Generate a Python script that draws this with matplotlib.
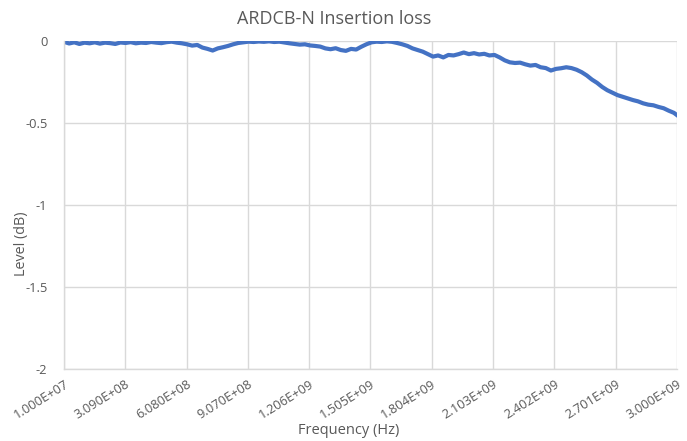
import numpy as np
import matplotlib
matplotlib.use("Agg")
import matplotlib.pyplot as plt
from matplotlib import ticker

freq_mhz = [10, 35, 60, 85, 110, 135, 160, 185, 210, 235, 260, 285, 310, 335, 360,
            385, 410, 435, 460, 485, 510, 535, 560, 585, 610, 635, 660, 685, 710, 735,
            760, 785, 810, 835, 860, 885, 910, 935, 960, 985, 1010, 1035, 1060, 1085,
            1110, 1135, 1160, 1185, 1210, 1235, 1260, 1285, 1310, 1335, 1360, 1385,
            1410, 1435, 1460, 1485, 1510, 1535, 1560, 1585, 1610, 1635, 1660, 1685,
            1710, 1735, 1760, 1785, 1810, 1835, 1860, 1885, 1910, 1935, 1960, 1985,
            2010, 2035, 2060, 2085, 2110, 2135, 2160, 2185, 2210, 2235, 2260, 2285,
            2310, 2335, 2360, 2385, 2410, 2435, 2460, 2485, 2510, 2535, 2560, 2585,
            2610, 2635, 2660, 2685, 2710, 2735, 2760, 2785, 2810, 2835, 2860, 2885,
            2910, 2935, 2960, 2985, 3000]
level_db = [-0.005, -0.015, -0.008, -0.018, -0.010, -0.014, -0.008, -0.016, -0.010,
            -0.013, -0.018, -0.009, -0.012, -0.007, -0.014, -0.010, -0.012, -0.006,
            -0.010, -0.013, -0.007, -0.004, -0.010, -0.014, -0.020, -0.028, -0.024,
            -0.040, -0.048, -0.058, -0.045, -0.038, -0.030, -0.020, -0.012, -0.008,
            -0.004, -0.006, -0.003, -0.005, -0.002, -0.006, -0.004, -0.009, -0.014,
            -0.018, -0.022, -0.020, -0.027, -0.030, -0.034, -0.045, -0.050, -0.044,
            -0.055, -0.060, -0.048, -0.052, -0.035, -0.020, -0.008, -0.004, -0.006,
            -0.002, -0.005, -0.012, -0.020, -0.030, -0.045, -0.055, -0.065, -0.080,
            -0.095, -0.088, -0.100, -0.085, -0.088, -0.080, -0.070, -0.080, -0.074,
            -0.082, -0.078, -0.088, -0.085, -0.100, -0.118, -0.130, -0.134, -0.132,
            -0.142, -0.150, -0.146, -0.160, -0.165, -0.180, -0.170, -0.166, -0.160,
            -0.165, -0.175, -0.190, -0.210, -0.235, -0.255, -0.280, -0.300, -0.315,
            -0.330, -0.340, -0.350, -0.360, -0.368, -0.380, -0.388, -0.392, -0.402,
            -0.410, -0.425, -0.438, -0.452]

x_ticks = [1.0e7, 3.09e8, 6.08e8, 9.07e8, 1.206e9, 1.505e9, 1.804e9, 2.103e9,
           2.402e9, 2.701e9, 3.0e9]
y_ticks = [0, -0.5, -1, -1.5, -2]

plt.rcParams['font.family'] = ['Open Sans', 'DejaVu Sans']
text_color = '#595959'

fig = plt.figure(figsize=(6.87, 4.41), dpi=100)
ax = fig.add_axes([0.0932, 0.1633, 0.8922, 0.7437])

freq_hz = np.array(freq_mhz) * 1e6
ax.plot(freq_hz, level_db, color='#4472C4', linewidth=3, solid_joinstyle='round')

ax.set_xlim(1.0e7, 3.0e9)
ax.set_ylim(-2, 0)
ax.set_xticks(x_ticks)
ax.set_yticks(y_ticks)
ax.xaxis.set_major_formatter(ticker.FuncFormatter(lambda v, p: '{:.3E}'.format(v)))
ax.yaxis.set_major_formatter(ticker.FuncFormatter(lambda v, p: '{:g}'.format(v)))

ax.grid(True, color='#D9D9D9', linewidth=1)
ax.set_axisbelow(True)
for side in ['top', 'right']:
    ax.spines[side].set_visible(False)
for side in ['left', 'bottom']:
    ax.spines[side].set_color('#D9D9D9')
    ax.spines[side].set_linewidth(1)
ax.tick_params(length=0, colors=text_color, labelsize=9.3)
ax.tick_params(axis='x', pad=6)
ax.tick_params(axis='y', pad=12)
plt.setp(ax.get_xticklabels(), rotation=32, ha='right', va='top',
         rotation_mode='anchor')

# titles placed on the figure like Excel does (centred on the chart area)
fig.text(0.486, 0.957, 'ARDCB-N Insertion loss', color=text_color, fontsize=13,
         ha='center', va='center')
fig.text(0.508, 0.023, 'Frequency (Hz)', color=text_color, fontsize=10.5,
         ha='center', va='center')
fig.text(0.032, 0.447, 'Level (dB)', color=text_color, fontsize=10.4,
         ha='center', va='center', rotation=90)

fig.savefig('out.png', dpi=100)
